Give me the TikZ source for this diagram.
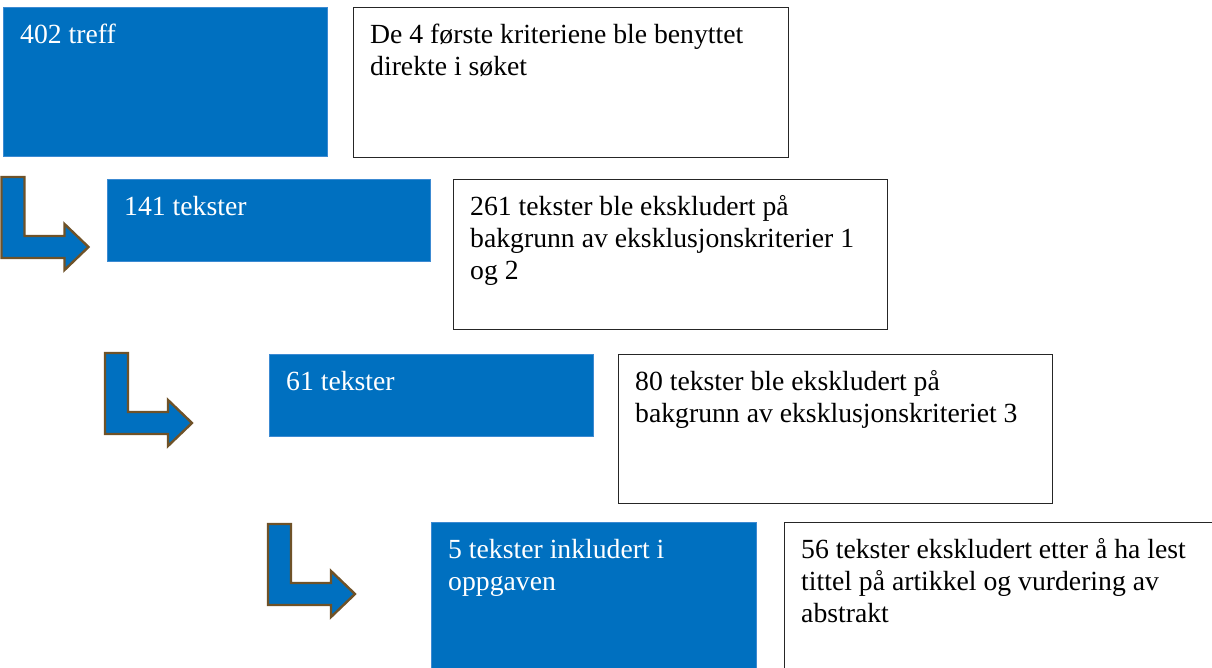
\documentclass[tikz,border=0pt]{standalone}
\usepackage{fontspec}
\setmainfont{Liberation Serif}
\definecolor{boxblue}{HTML}{0070C0}
\definecolor{boxblueedge}{HTML}{3C8AD2}
\definecolor{arrowedge}{HTML}{6F5228}
\definecolor{frame}{HTML}{262626}
\tikzset{
  bluebox/.style={rectangle, anchor=north west, fill=boxblue, draw=boxblueedge, line width=0.8pt, inner sep=0pt},
  whitebox/.style={rectangle, anchor=north west, fill=white, draw=frame, line width=1.4pt, inner sep=0pt},
  boxtext/.style={anchor=north west, inner sep=0pt, align=left,
    font=\fontsize{27.7}{32}\selectfont, xshift=17pt, yshift=-13.7pt},
  bluetext/.style={boxtext, text=white},
  whitetext/.style={boxtext, text=black},
  bentarrow/.pic={
    \path[fill=boxblue, draw=arrowedge, line width=2.4pt, line join=miter]
      (0,0) -- (23,0) -- (23,59) -- (63,59) -- (63,47) -- (87,70)
      -- (63,93) -- (63,81) -- (0,81) -- cycle;
  }
}
\begin{document}
\begin{tikzpicture}[x=1pt, y=-1pt]
\useasboundingbox (0,0) rectangle (1212,667);
\clip (0,0) rectangle (1212,667);

% stage boxes (blue) and their notes (white)
\node[bluebox, minimum width=324pt, minimum height=149pt] (b1) at (3,7) {};
\node[whitebox, minimum width=435pt, minimum height=150pt] (w1) at (353,7) {};
\node[bluebox, minimum width=323pt, minimum height=82pt] (b2) at (107,179) {};
\node[whitebox, minimum width=434pt, minimum height=150pt] (w2) at (453,179) {};
\node[bluebox, minimum width=324pt, minimum height=82pt] (b3) at (269,354) {};
\node[whitebox, minimum width=434pt, minimum height=149pt] (w3) at (618,354) {};
\node[bluebox, minimum width=325pt, minimum height=160pt] (b4) at (431,522) {};
\node[whitebox, minimum width=440pt, minimum height=160pt] (w4) at (784,522) {};

% texts
\node[bluetext] (t1) at (b1.north west) {\strut 402 treff};
\node[whitetext] (n1) at (w1.north west) {\strut De 4 første kriteriene ble benyttet\\direkte i søket};
\node[bluetext] (t2) at (b2.north west) {\strut 141 tekster};
\node[whitetext] (n2) at (w2.north west) {\strut 261 tekster ble ekskludert på\\bakgrunn av eksklusjonskriterier 1\\og 2};
\node[bluetext] (t3) at (b3.north west) {\strut 61 tekster};
\node[whitetext] (n3) at (w3.north west) {\strut 80 tekster ble ekskludert på\\bakgrunn av eksklusjonskriteriet 3};
\node[bluetext] (t4) at (b4.north west) {\strut 5 tekster inkludert i\\oppgaven};
\node[whitetext] (n4) at (w4.north west) {\strut 56 tekster ekskludert etter å ha lest\\tittel på artikkel og vurdering av\\abstrakt};

% bent arrows leading to the next stage
\pic at (1.5,177) {bentarrow};
\pic at (105,353) {bentarrow};
\pic at (268,524) {bentarrow};
\end{tikzpicture}
\end{document}
